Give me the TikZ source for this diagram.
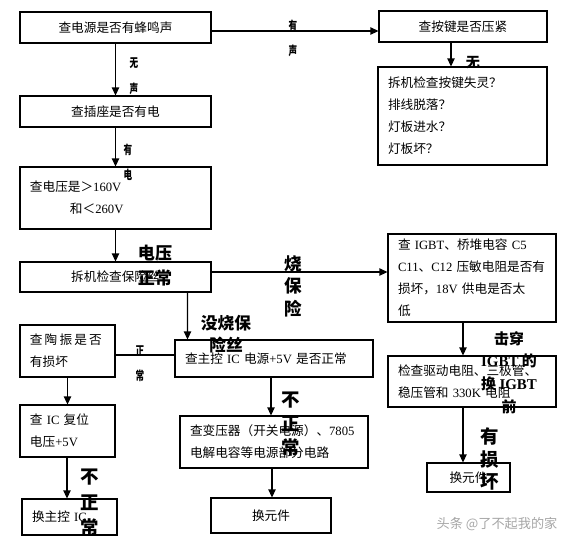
\documentclass[tikz,border=0pt]{standalone}
\usepackage{fontspec}
\setmainfont{Noto Sans CJK SC}
\newfontfamily\lat{Liberation Serif}
\newfontfamily\thin{Noto Sans CJK SC}[FakeStretch=0.7]
\usetikzlibrary{
    arrows.meta,
    calc
}
\newlength\upx
\setlength\upx{0.02cm}
\tikzset{
    >={Triangle[width=4.2pt,length=4.5pt]},
    box/.style 2 args={draw, line width=0.7pt, inner xsep=10\upx, inner ysep=0pt,
        minimum width=#1\upx, minimum height=#2\upx,
        font=\fontsize{7.2}{12.5}\selectfont},
    lbox/.style 2 args={box={0}{#2}, align=left, text width=#1\upx},
    lbl/.style 2 args={font=\fontsize{#1}{#2}\selectfont\bfseries, align=center, inner sep=0pt},
    slbl/.style={font=\thin\fontsize{7}{14.5}\selectfont\bfseries, align=center, inner sep=0pt},
    link/.style={->, line width=0.6pt},
}

\begin{document}
\begin{tikzpicture}[x=\upx,y=-\upx]
   \useasboundingbox (0,0) rectangle (575,549);
   % boxes
   \node[box={191}{31}] (src) at (115.5,27.5) {查电源是否有蜂鸣声};
   \node[box={168}{31}] (key) at (463,26.5) {查按键是否压紧};
   \node[lbox={149}{98}] (open) at (462.5,116) {拆机检查按键失灵？\\排线脱落？\\灯板进水？\\灯板坏？};
   \node[box={191}{31}] (sock) at (115.5,111.5) {查插座是否有电};
   \node[lbox={171}{62}] (volt) at (115.5,198) {查电压是＞{\lat 160V}\\\hspace*{40\upx}和＜{\lat 260V}};
   \node[box={191}{30}] (fuse) at (115.5,277) {拆机检查保险丝};
   \node[lbox={148}{88}] (igbt) at (472,278) {查~{\lat IGBT}、桥堆电容~{\lat C5}\\{\lat C11}、{\lat C12}~压敏电阻是否有\\损坏，{\lat 18V}~供电是否太\\低};
   \node[lbox={75}{52}] (tao) at (67.5,351) {查\,陶\,振\,是\,否\\有损坏};
   \node[lbox={178}{37}] (ic5) at (274,358.5) {查主控~{\lat IC}~电源{\lat +5V}~是否正常};
   \node[lbox={148}{51}] (drv) at (472,381.5) {检查驱动电阻、三极管、\\稳压管和~{\lat 330K}~电阻};
   \node[lbox={75}{52}] (rst) at (67.5,431) {查~{\lat IC}~复位\\电压{\lat +5V}};
   \node[lbox={168}{52}] (trans) at (274,442) {查变压器（开关电源）、{\lat 7805}\\电解电容等电源部分电路};
   \node[lbox={75}{36}] (chic) at (69.5,517) {换主控~{\lat IC}};
   \node[box={120}{35}] (rep1) at (271,515.5) {换元件};
   \node[box={83}{29}] (rep2) at (468.5,477.5) {换元件};
   % connectors
   \draw[link] (src) -- (sock);
   \draw[link] ($(src.east)+(0,3.5)$) -- ($(key.west)+(0,4.5)$);
   \draw[link] ($(key.south)+(-12,0)$) -- ($(open.north)+(-11.5,0)$);
   \draw[link] (sock) -- (volt);
   \draw[link] (volt) -- (fuse);
   \draw[link] ($(fuse.east)+(0,-5)$) -- ($(igbt.west)+(0,-6)$);
   \draw[link] ($(fuse.south)+(72,0)$) -- ($(ic5.north)+(-86.5,0)$);
   \draw[line width=0.6pt] ($(ic5.west)+(0,-3.5)$) -- ($(tao.east)+(0,4)$);
   \draw[link] (tao) -- (rst);
   \draw[link] ($(rst.south)+(-0.5,0)$) -- ($(chic.north)+(-2.5,0)$);
   \draw[link] ($(ic5.south)+(-3,0)$) -- ($(trans.north)+(-3,0)$);
   \draw[link] ($(trans.south)+(-2,0)$) -- ($(rep1.north)+(1,0)$);
   \draw[link] ($(igbt.south)+(-9,0)$) -- ($(drv.north)+(-9,0)$);
   \draw[link] ($(drv.south)+(-9,0)$) -- ($(rep2.north)+(-5.5,0)$);
   % labels
   \node[slbl] (l_nosnd) at (134,76) {无\\声};
   \node[slbl] (l_snd) at (293,38.5) {有\\声};
   \node[lbl={8}{10}] (l_no) at (473,63) {无};
   \node[slbl] (l_pwr) at (128,162.5) {有\\电};
   \node[lbl={9.7}{14.2}] (l_vok) at (155,265.5) {电压\\正常};
   \node[lbl={10}{12.8}] (l_burn) at (293,286) {烧\\保\\险};
   \node[lbl={9.5}{12.5}] (l_noburn) at (226,334) {没烧保\\险丝};
   \node[slbl] (l_ok) at (140,363.5) {正\\常};
   \node[lbl={10.5}{14.5}] (l_bad1) at (90,503) {不\\正\\常};
   \node[lbl={10.5}{13.6}] (l_bad2) at (291,424) {不\\正\\常};
   \node[lbl={8.5}{13}] (l_igbt) at (509,372.5) {击穿\\{\lat IGBT}~的\\换~{\lat IGBT}\\前};
   \node[lbl={10.5}{13}] (l_dmg) at (490,459) {有\\损\\坏};
   \node[text=gray!70, font=\fontsize{7.5}{9}\selectfont, inner sep=0pt] (wm) at (497,524) {头条 @了不起我的家};
\end{tikzpicture}
\end{document}
